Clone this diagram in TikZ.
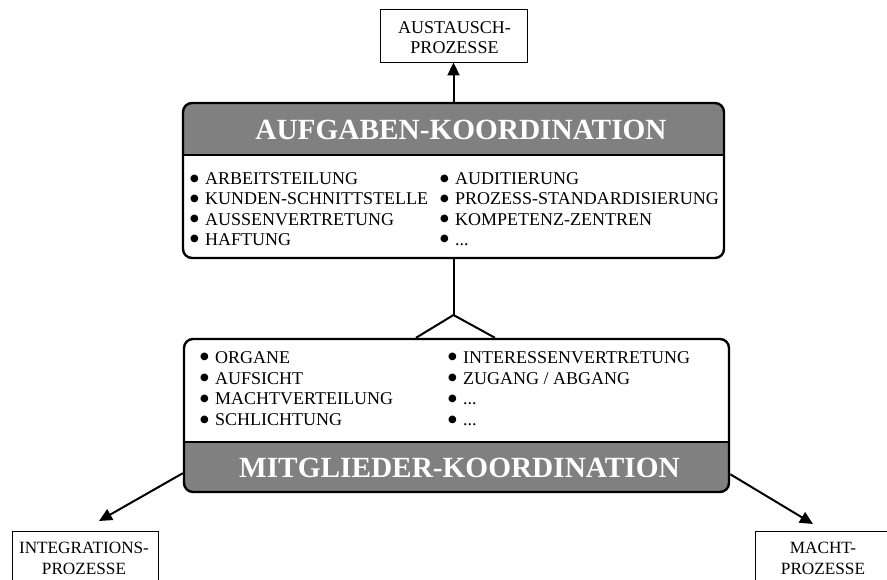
\documentclass[tikz,border=0pt]{standalone}
\usepackage{fontspec}
\setmainfont{Liberation Serif}
\newfontfamily\dotfont{DejaVu Sans}
\usetikzlibrary{arrows.meta,calc}

\definecolor{headgray}{RGB}{128,128,128}

% bullet item: round bullet, fixed gap, entry text
\newcommand{\bul}[1]{\makebox[10pt][l]{\raisebox{3.6pt}{\dotfont\fontsize{10}{10}\selectfont ●}}\hspace{5pt}#1}
% fixed height for the first line of a list column
\newcommand{\firstline}{\rule{0pt}{14pt}}

\tikzset{
  procbox/.style={draw=black, line width=0.9pt, rectangle, inner sep=0pt},
  proctext/.style={align=center, font=\fontsize{18}{20}\selectfont, inner sep=0pt},
  coordbox/.style={draw=black, line width=2.4pt, rectangle, rounded corners=9pt, inner sep=0pt},
  coordtitle/.style={text=white, font=\fontsize{29.3}{30}\selectfont\bfseries, inner sep=0pt, anchor=base},
  upperlist/.style={font=\fontsize{18}{20.2}\selectfont, align=left, inner sep=0pt, anchor=north west},
  lowerlist/.style={font=\fontsize{18}{20.8}\selectfont, align=left, inner sep=0pt, anchor=north west},
  sepline/.style={line width=2pt},
  conn/.style={line width=2pt},
  arr/.style={conn, -{Triangle[length=13pt,width=12pt]}}
}

\begin{document}
\begin{tikzpicture}[x=1pt, y=-1pt]
\useasboundingbox (0,0) rectangle (887,579);
\clip (0,0) rectangle (887,579);
\fill[white] (0,0) rectangle (887,579);

% ---- header bands (filled before the frames are drawn)
\begin{scope}
  \clip[rounded corners=9pt] (183,103) rectangle (724,258);
  \fill[headgray] (183,103) rectangle (724,155);
\end{scope}
\begin{scope}
  \clip[rounded corners=9pt] (184,339) rectangle (729,492);
  \fill[headgray] (184,442) rectangle (729,492);
\end{scope}

% ---- task coordination block
\node[coordbox, minimum width=541pt, minimum height=155pt] (aufg) at (453.5,180.5) {};
\draw[sepline] (183,155) -- (724,155);
\node[coordtitle] (aufgtitle) at (461,139.5) {AUFGABEN-KOORDINATION};

\node[upperlist] (aufgleft) at (190,170.5) {\firstline\bul{ARBEITSTEILUNG}\\
  \bul{KUNDEN-SCHNITTSTELLE}\\ \bul{AUSSENVERTRETUNG}\\ \bul{HAFTUNG}};
\node[upperlist] (aufgright) at (440,170.5) {\firstline\bul{AUDITIERUNG}\\
  \bul{PROZESS-STANDARDISIERUNG}\\ \bul{KOMPETENZ-ZENTREN}\\ \bul{...}};

% ---- member coordination block
\node[coordbox, minimum width=545pt, minimum height=153pt] (mitg) at (456.5,415.5) {};
\draw[sepline] (184,442) -- (729,442);
\node[coordtitle] (mitgtitle) at (459.5,477.5) {MITGLIEDER-KOORDINATION};

\node[lowerlist] (mitgleft) at (200,349) {\firstline\bul{ORGANE}\\
  \bul{AUFSICHT}\\ \bul{MACHTVERTEILUNG}\\ \bul{SCHLICHTUNG}};
\node[lowerlist] (mitgright) at (448,349) {\firstline\bul{INTERESSENVERTRETUNG}\\
  \bul{ZUGANG / ABGANG}\\ \bul{...}\\ \bul{...}};

% ---- process boxes
\node[procbox, minimum width=147pt, minimum height=53pt] (austausch) at (453.5,35.5) {};
\node[proctext] (austauschtext) at (454.5,37.5) {AUSTAUSCH-\\PROZESSE};

\node[procbox, minimum width=146pt, minimum height=70pt, anchor=north] (integ) at (85,531) {};
\node[proctext, font=\fontsize{17.2}{20.5}\selectfont] (integtext) at (84,558.5) {INTEGRATIONS-\\PROZESSE};

\node[procbox, minimum width=146pt, minimum height=70pt, anchor=north] (macht) at (828,531) {};
\node[proctext, font=\fontsize{17.2}{20.5}\selectfont] (machttext) at (823,558.5) {MACHT-\\PROZESSE};

% ---- connectors
\draw[arr] (aufg.north) -- (austausch.south);
\coordinate (fork) at (453.5,315);
\draw[conn] (aufg.south) -- (fork);
\draw[conn] ([xshift=-40.5pt]mitg.north) -- (fork) -- ([xshift=38.5pt]mitg.north);
\draw[arr] ([yshift=20pt]mitg.south west) -- ([xshift=14pt,yshift=10pt]integ.north);
\draw[arr] ([yshift=19pt]mitg.south east) -- ([xshift=-15pt,yshift=7pt]macht.north);
\end{tikzpicture}
\end{document}
